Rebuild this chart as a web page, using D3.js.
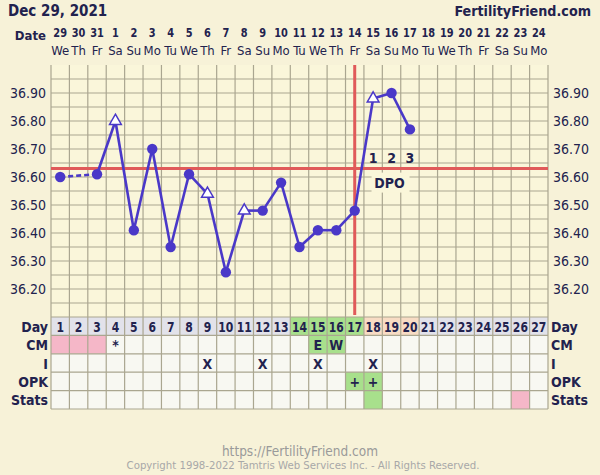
<!DOCTYPE html>
<html><head><meta charset="utf-8">
<script src="https://cdn.jsdelivr.net/npm/d3@7"></script>
<style>
html,body{margin:0;padding:0;background:#f7f2d8;}
svg{display:block;font-family:"DejaVu Sans Condensed","DejaVu Sans",sans-serif;font-stretch:condensed;}
</style></head><body>
<script>
const title = "Dec 29, 2021";
const brand = "FertilityFriend.com";
const dateLabels = ["29","30","31","1","2","3","4","5","6","7","8","9","10","11","12","13","14","15","16","17","18","19","20","21","22","23","24"];
const weekdays = ["We","Th","Fr","Sa","Su","Mo","Tu","We","Th","Fr","Sa","Su","Mo","Tu","We","Th","Fr","Sa","Su","Mo","Tu","We","Th","Fr","Sa","Su","Mo"];
const cycleDays = d3.range(1,28);
const temps = [36.60,null,36.61,36.80,36.41,36.70,36.35,36.61,36.54,36.26,36.48,36.48,36.58,36.35,36.41,36.41,36.48,36.88,36.90,36.77];
const markers = ["c",null,"c","t","c","c","c","c","t","c","t","c","c","c","c","c","c","t","c","c"];
const yTicks = [36.20,36.30,36.40,36.50,36.60,36.70,36.80,36.90];
const coverline = 36.63;
const ovulationDay = 17;
const dpoDays = [18,19,20];
const dpoLabels = ["1","2","3"];
const dayRowColor = ["l","l","l","l","l","l","l","l","l","l","l","l","l","g","g","g","g","p","p","p","l","l","l","l","l","l","l"];
const rowNames = ["CM","I","OPK","Stats"];
const cmText = {4:"*",15:"E",16:"W"};
const cmColor = {1:"pink",2:"pink",3:"pink",15:"green",16:"green"};
const iText = {9:"X",12:"X",15:"X",18:"X"};
const opkText = {17:"+",18:"+"};
const opkColor = {17:"green",18:"green"};
const statsColor = {18:"green",26:"pink"};
const footer1 = "https://FertilityFriend.com";
const footer2 = "Copyright 1998-2022 Tamtris Web Services Inc. - All Rights Reserved.";

const W=600,H=475;
const L=51,R=548,T=65,B=317;
const navy="#22224e", blue="#4a38c8", red="#e05a5a", grid="#aaa690";
const fills={pink:"#f5b7c8",green:"#a8e08c",l:"#e2e2ea",g:"#a8e08c",p:"#f8dcc4"};

const svg=d3.select("body").append("svg").attr("width",W).attr("height",H);
svg.append("rect").attr("width",W).attr("height",H).attr("fill","#f7f2d8");

const x=d3.scaleBand().domain(cycleDays).range([L,R]).paddingInner(0).paddingOuter(0);
const cx=d=>x(d)+x.bandwidth()/2;
const y=d3.scaleLinear().domain([36.10,37.00]).range([B,T]);

// plot background
svg.append("rect").attr("x",L).attr("y",T).attr("width",R-L).attr("height",B-T).attr("fill","#faf6da");

// header
svg.append("text").attr("x",8).attr("y",16).attr("font-size",15).attr("font-weight","bold").attr("fill",navy).text(title);
svg.append("text").attr("x",591).attr("y",16).attr("text-anchor","end").attr("font-size",14.2).attr("font-weight","bold").attr("fill",navy).text(brand);
svg.append("text").attr("x",46).attr("y",40).attr("text-anchor","end").attr("font-size",13).attr("font-weight","bold").attr("fill",navy).text("Date");
svg.selectAll(".dl").data(cycleDays).enter().append("text").attr("transform",d=>`translate(${cx(d)},37) scale(0.84,1)`).attr("text-anchor","middle")
  .attr("font-size",13).attr("font-weight","bold").attr("fill",navy).text((d,i)=>dateLabels[i]);
svg.selectAll(".wd").data(cycleDays).enter().append("text").attr("x",d=>cx(d)).attr("y",55).attr("text-anchor","middle")
  .attr("font-size",13).attr("fill",navy).text((d,i)=>weekdays[i]);

// grid
const hg=d3.range(36.15,36.96,0.05).map(v=>+v.toFixed(2));
svg.selectAll(".hg").data(hg).enter().append("line").attr("x1",L).attr("x2",R).attr("y1",d=>y(d)).attr("y2",d=>y(d)).attr("stroke",grid).attr("stroke-width",1.2);
svg.selectAll(".vg").data(d3.range(0,28)).enter().append("line").attr("x1",i=>L+i*x.bandwidth()).attr("x2",i=>L+i*x.bandwidth()).attr("y1",T).attr("y2",B).attr("stroke",grid).attr("stroke-width",1.2);

// y labels
svg.selectAll(".yl").data(yTicks).enter().append("text").attr("x",46).attr("y",d=>y(d)+5).attr("text-anchor","end").attr("font-size",14).attr("fill",navy).text(d=>d.toFixed(2));
svg.selectAll(".yr").data(yTicks).enter().append("text").attr("x",553).attr("y",d=>y(d)+5).attr("font-size",14).attr("fill",navy).text(d=>d.toFixed(2));

// coverline & ovulation
svg.append("line").attr("x1",L).attr("x2",R).attr("y1",y(coverline)).attr("y2",y(coverline)).attr("stroke",red).attr("stroke-width",3);
svg.append("line").attr("x1",cx(ovulationDay)).attr("x2",cx(ovulationDay)).attr("y1",T).attr("y2",B-2).attr("stroke",red).attr("stroke-width",3);

// DPO
svg.append("rect").attr("x",cx(19)-20).attr("y",y(coverline)+4).attr("width",38).attr("height",20).attr("fill","#faf6da");
svg.append("text").attr("x",cx(19)-2).attr("y",y(coverline)+19).attr("text-anchor","middle").attr("font-size",14).attr("font-weight","bold").attr("fill",navy).text("DPO");
svg.selectAll(".dpo").data(dpoDays).enter().append("text").attr("x",d=>cx(d)).attr("y",y(coverline)-6).attr("text-anchor","middle")
  .attr("font-size",14).attr("font-weight","bold").attr("fill",navy).text((d,i)=>dpoLabels[i]);

// temp line
const pts=temps.map((t,i)=>({d:i+1,t,m:markers[i]})).filter(p=>p.t!=null);
const segs=[];
for(let i=1;i<pts.length;i++){segs.push({a:pts[i-1],b:pts[i],dash:pts[i].d-pts[i-1].d>1});}
svg.selectAll(".seg").data(segs).enter().append("line")
  .attr("x1",s=>cx(s.a.d)).attr("y1",s=>y(s.a.t)).attr("x2",s=>cx(s.b.d)).attr("y2",s=>y(s.b.t))
  .attr("stroke",blue).attr("stroke-width",2.6).attr("stroke-dasharray",s=>s.dash?"5,3":null);
svg.selectAll(".pc").data(pts.filter(p=>p.m==="c")).enter().append("circle").attr("cx",p=>cx(p.d)).attr("cy",p=>y(p.t)).attr("r",5.2).attr("fill",blue);
const tri=d3.symbol().type(d3.symbolTriangle).size(60);
svg.selectAll(".pt").data(pts.filter(p=>p.m==="t")).enter().append("path").attr("d",tri)
  .attr("transform",p=>`translate(${cx(p.d)},${y(p.t)})`).attr("fill","#ffffff").attr("stroke",blue).attr("stroke-width",1.5);

// table
const rowH=18.4, tTop=B;
const tg=svg.append("g");
cycleDays.forEach((d,i)=>{
  tg.append("rect").attr("x",x(d)).attr("y",tTop).attr("width",x.bandwidth()).attr("height",rowH).attr("fill",fills[dayRowColor[i]]);
});
const rowsData=[[cmText,cmColor],[iText,{}],[opkText,opkColor],[{},statsColor]];
rowsData.forEach((r,ri)=>{
  const ry=tTop+rowH*(ri+1);
  cycleDays.forEach(d=>{
    tg.append("rect").attr("x",x(d)).attr("y",ry).attr("width",x.bandwidth()).attr("height",rowH).attr("fill",r[1][d]?fills[r[1][d]]:"#f8f8f2");
    if(r[0][d]) tg.append("text").attr("x",cx(d)).attr("y",ry+rowH/2+5.5).attr("text-anchor","middle").attr("font-size",14).attr("font-weight","bold").attr("fill",navy).text(r[0][d]);
  });
});
cycleDays.forEach(d=>{
  tg.append("text").attr("transform",`translate(${cx(d)},${tTop+rowH/2+5.5}) scale(0.86,1)`).attr("text-anchor","middle").attr("font-size",14).attr("font-weight","bold").attr("fill",navy).text(d);
});
for(let i=0;i<=5;i++) tg.append("line").attr("x1",L).attr("x2",R).attr("y1",tTop+i*rowH).attr("y2",tTop+i*rowH).attr("stroke",grid).attr("stroke-width",1.2);
for(let i=0;i<=27;i++) tg.append("line").attr("x1",L+i*x.bandwidth()).attr("x2",L+i*x.bandwidth()).attr("y1",tTop).attr("y2",tTop+5*rowH).attr("stroke",grid).attr("stroke-width",1.2);
["Day"].concat(rowNames).forEach((n,i)=>{
  const ty=tTop+i*rowH+rowH/2+5.5;
  tg.append("text").attr("x",48).attr("y",ty).attr("text-anchor","end").attr("font-size",14).attr("font-weight","bold").attr("fill",navy).text(n);
  tg.append("text").attr("x",551).attr("y",ty).attr("font-size",14).attr("font-weight","bold").attr("fill",navy).text(n);
});

// footer
svg.append("text").attr("x",300).attr("y",456).attr("text-anchor","middle").attr("font-size",13.5).attr("fill","#9a9a9a").text(footer1);
svg.append("text").attr("x",303).attr("y",469).attr("text-anchor","middle").attr("font-size",11.3).attr("fill","#a8a8a8").text(footer2);
</script>
</body></html>
